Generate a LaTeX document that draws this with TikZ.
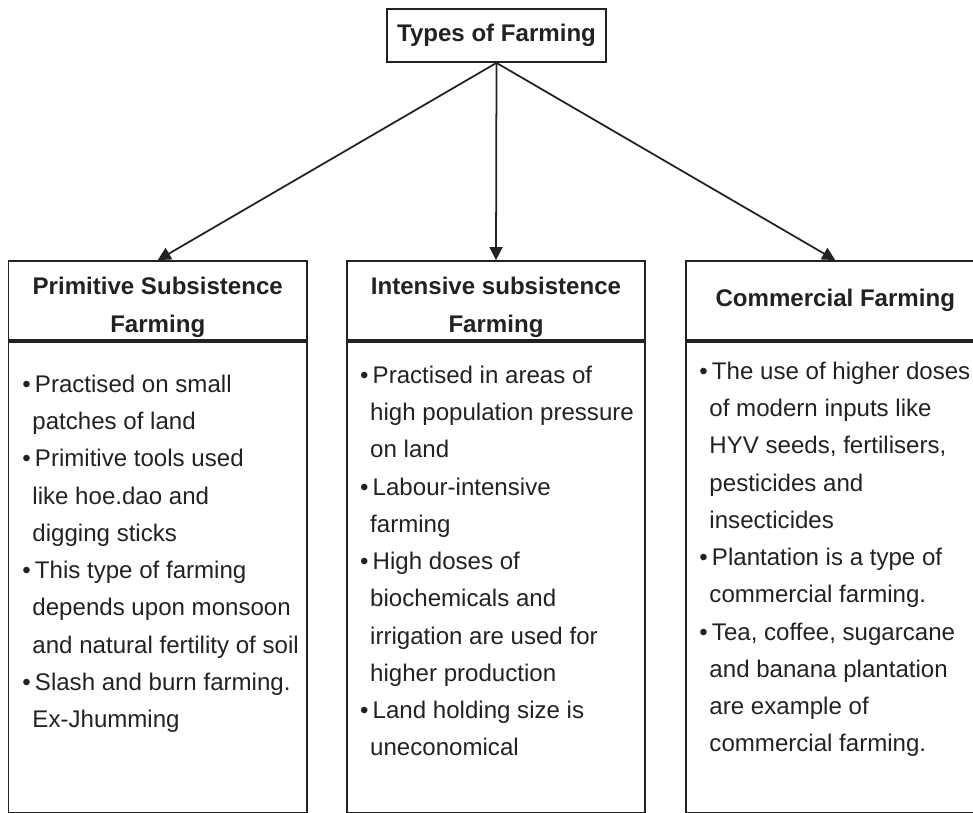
\documentclass[tikz,border=0pt]{standalone}
\usepackage{fontspec}
\setmainfont{Liberation Sans}
\usetikzlibrary{positioning,arrows.meta}
\definecolor{ink}{HTML}{222222}
\newcommand{\bul}{\makebox[0.25cm][l]{\textbullet}}
\newcommand{\ind}{\hspace*{0.2cm}}
\newcommand{\hdup}{\rule{0pt}{0.62cm}}

\begin{document}
\begin{tikzpicture}[
  >={Triangle[length=0.26cm,width=0.26cm]},
  topbox/.style={draw=ink,line width=1pt,font=\bfseries\fontsize{13.7}{21.2}\selectfont,text=ink,minimum width=4.38cm,minimum height=1.06cm,inner sep=0pt},
  hdr/.style={draw=ink,line width=1pt,font=\bfseries\fontsize{13.7}{21.2}\selectfont,text=ink,align=center,minimum width=5.97cm,minimum height=1.58cm,inner sep=0pt},
  bodybox/.style={draw=ink,line width=1pt,minimum width=5.97cm,minimum height=9.43cm,anchor=north,inner sep=0pt},
  bodytxt/.style={font=\fontsize{13.7}{21.2}\selectfont,text=ink,align=left,inner sep=0pt},
  link/.style={->,draw=ink,line width=1pt}
]
\useasboundingbox (0,0) rectangle (19.46,-16.24);
% root
\node[topbox] (types) at (9.93,-0.71) {Types of Farming};
% column heads
\node[hdr] (isf) at (9.92,-6.01) {\hdup Intensive subsistence\\Farming};
\node[hdr,left=0.76cm of isf] (psf) {\hdup Primitive Subsistence\\Farming};
\node[hdr,right=0.78cm of isf] (cf) {Commercial Farming};
% column bodies
\node[bodybox] (psfb) at (psf.south) {};
\node[bodybox] (isfb) at (isf.south) {};
\node[bodybox] (cfb) at (cf.south) {};
% points
\node[bodytxt,below right=0.5cm and 0.29cm of psfb.north west] (psft) {\strut\bul Practised on small\\
  \ind patches of land\\
  \bul Primitive tools used\\
  \ind like hoe.dao and\\
  \ind digging sticks\\
  \bul This type of farming\\
  \ind depends upon monsoon\\
  \ind and natural fertility of soil\\
  \bul Slash and burn farming.\\
  \ind Ex-Jhumming};
\node[bodytxt,below right=0.32cm and 0.28cm of isfb.north west] (isft) {\strut\bul Practised in areas of\\
  \ind high population pressure\\
  \ind on land\\
  \bul Labour-intensive\\
  \ind farming\\
  \bul High doses of\\
  \ind biochemicals and\\
  \ind irrigation are used for\\
  \ind higher production\\
  \bul Land holding size is\\
  \ind uneconomical};
\node[bodytxt,below right=0.24cm and 0.28cm of cfb.north west] (cft) {\strut\bul The use of higher doses\\
  \ind of modern inputs like\\
  \ind HYV seeds, fertilisers,\\
  \ind pesticides and\\
  \ind insecticides\\
  \bul Plantation is a type of\\
  \ind commercial farming.\\
  \bul Tea, coffee, sugarcane\\
  \ind and banana plantation\\
  \ind are example of\\
  \ind commercial farming.};
% arrows
\draw[link] (types.south) -- (psf.north);
\draw[link] (types.south) -- (isf.north);
\draw[link] (types.south) -- (cf.north);
\end{tikzpicture}
\end{document}
